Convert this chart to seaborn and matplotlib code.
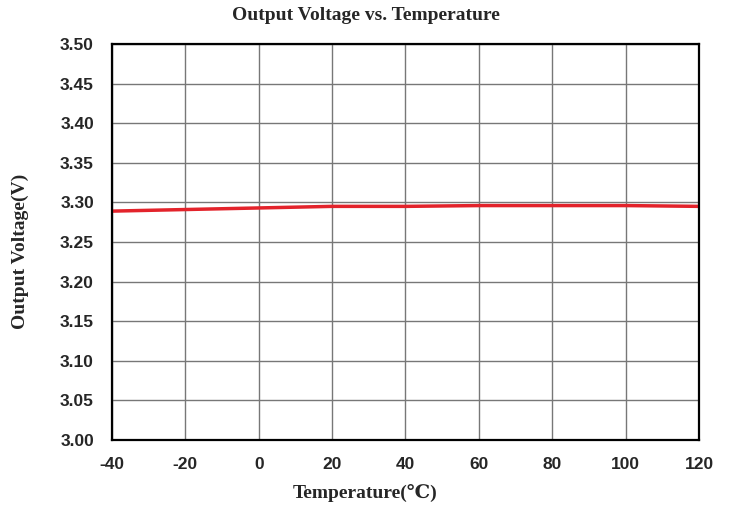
import matplotlib
matplotlib.use("Agg")
import matplotlib.pyplot as plt
import seaborn as sns
import pandas as pd

# dados
temperatura = [-40, -20, 0, 20, 40, 60, 80, 100, 120]
tensao = [3.289, 3.291, 3.293, 3.295, 3.295, 3.296, 3.296, 3.296, 3.295]
yticks = [3.00, 3.05, 3.10, 3.15, 3.20, 3.25, 3.30, 3.35, 3.40, 3.45, 3.50]
xticks = [-40, -20, 0, 20, 40, 60, 80, 100, 120]

dados = pd.DataFrame({"Temperatura": temperatura, "Tensao": tensao})

sns.set_style("white")
serif = ["Liberation Serif", "DejaVu Serif"]
sans = ["Liberation Sans", "DejaVu Sans"]

fig = plt.figure(figsize=(7.31, 5.11), dpi=100)
ax = fig.add_axes([0.1532, 0.1389, 0.8030, 0.7750])

sns.lineplot(data=dados, x="Temperatura", y="Tensao", color="#e3232b", linewidth=2.5, ax=ax)

ax.set_xlim(-40, 120)
ax.set_ylim(3.00, 3.50)
ax.set_xticks(xticks)
ax.set_yticks(yticks)
ax.set_xticklabels([str(t) for t in xticks], family=sans, fontsize=12.5, fontweight="bold")
ax.set_yticklabels([f"{v:.2f}" for v in yticks], family=sans, fontsize=12.5, fontweight="bold")
ax.tick_params(axis="x", length=0, pad=12)
ax.tick_params(axis="y", length=0, pad=13)
ax.set_xlabel("")
ax.set_ylabel("")

ax.grid(True, color="#777777", linewidth=1)
for s in ax.spines.values():
    s.set_color("black")
    s.set_linewidth(1.6)

# títulos centralizados na figura, como no original
fig.text(0.5, 1 - 16 / 511, "Output Voltage vs. Temperature", family=serif, fontsize=14,
         fontweight="bold", ha="center", va="center")
fig.text(0.5, 1 - 493 / 511, "Temperature(\u2103)", family=serif, fontsize=14,
         fontweight="bold", ha="center", va="center")
fig.text(20 / 731, 1 - 251 / 511, "Output Voltage(V)", family=serif, fontsize=14,
         fontweight="bold", ha="center", va="center", rotation=90)

fig.savefig("out.png", dpi=100)
